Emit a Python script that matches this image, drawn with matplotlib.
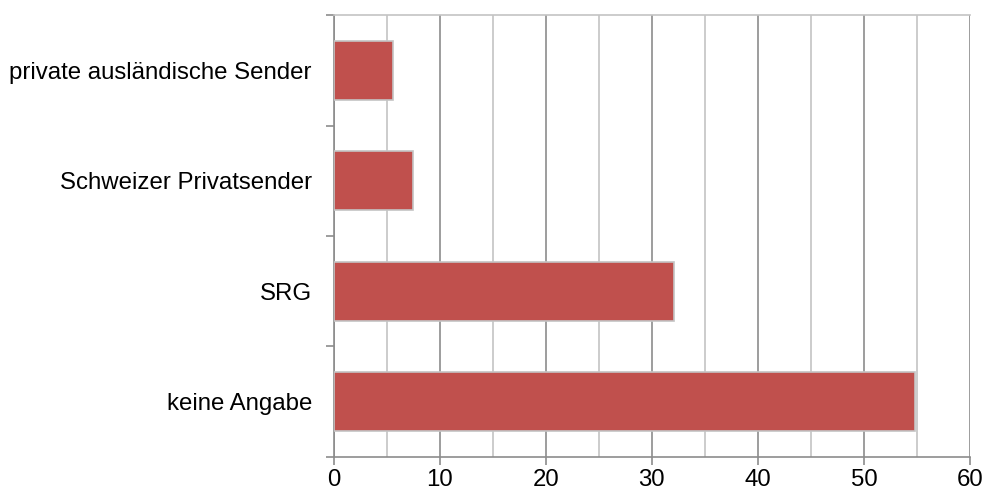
import matplotlib.pyplot as plt
from matplotlib.ticker import MultipleLocator, FixedLocator

plt.rcParams['font.family'] = ['Liberation Sans', 'DejaVu Sans']

# data (top to bottom as in the chart)
categories = ["private ausländische Sender", "Schweizer Privatsender", "SRG", "keine Angabe"]
values = [5.6, 7.5, 32.1, 54.8]
x_ticks = [0, 10, 20, 30, 40, 50, 60]

fig = plt.figure(figsize=(9.86, 4.95), dpi=100)
ax = fig.add_axes([333.5 / 986, 1 - 456.7 / 495, (970 - 333.5) / 986, (456.7 - 15.3) / 495])

pos = list(range(len(categories)))[::-1]
ax.barh(pos, values, height=0.535, color="#C0504D", edgecolor="#C4C4C4", linewidth=1.2, zorder=3)

ax.set_xlim(0, 60)
ax.set_ylim(-0.5, len(categories) - 0.5)

# gridlines: minor every 5 (light), major every 10 (darker)
ax.xaxis.set_major_locator(FixedLocator(x_ticks))
ax.xaxis.set_minor_locator(MultipleLocator(5))
ax.grid(axis="x", which="major", color="#8C8C8C", linewidth=1.2, zorder=0)
ax.grid(axis="x", which="minor", color="#C4C4C4", linewidth=1.2, zorder=0)
ax.tick_params(axis="x", which="major", direction="out", length=6, width=1.2, color="#8C8C8C",
               labelsize=17.3, pad=3)
ax.tick_params(axis="x", which="minor", length=0)

ax.set_yticks(pos)
ax.set_yticklabels(categories)
ax.yaxis.set_minor_locator(FixedLocator([-0.5, 0.5, 1.5, 2.5, 3.5]))
ax.tick_params(axis="y", which="major", length=0, labelsize=17.3, pad=15.5)
ax.tick_params(axis="y", which="minor", direction="out", length=6, width=1.2, color="#8C8C8C")

for side in ["left", "bottom"]:
    ax.spines[side].set_color("#8C8C8C")
    ax.spines[side].set_linewidth(1.2)
ax.spines["top"].set_color("#C4C4C4")
ax.spines["top"].set_linewidth(1.2)
ax.spines["right"].set_visible(False)

fig.savefig("out.png", dpi=100)
